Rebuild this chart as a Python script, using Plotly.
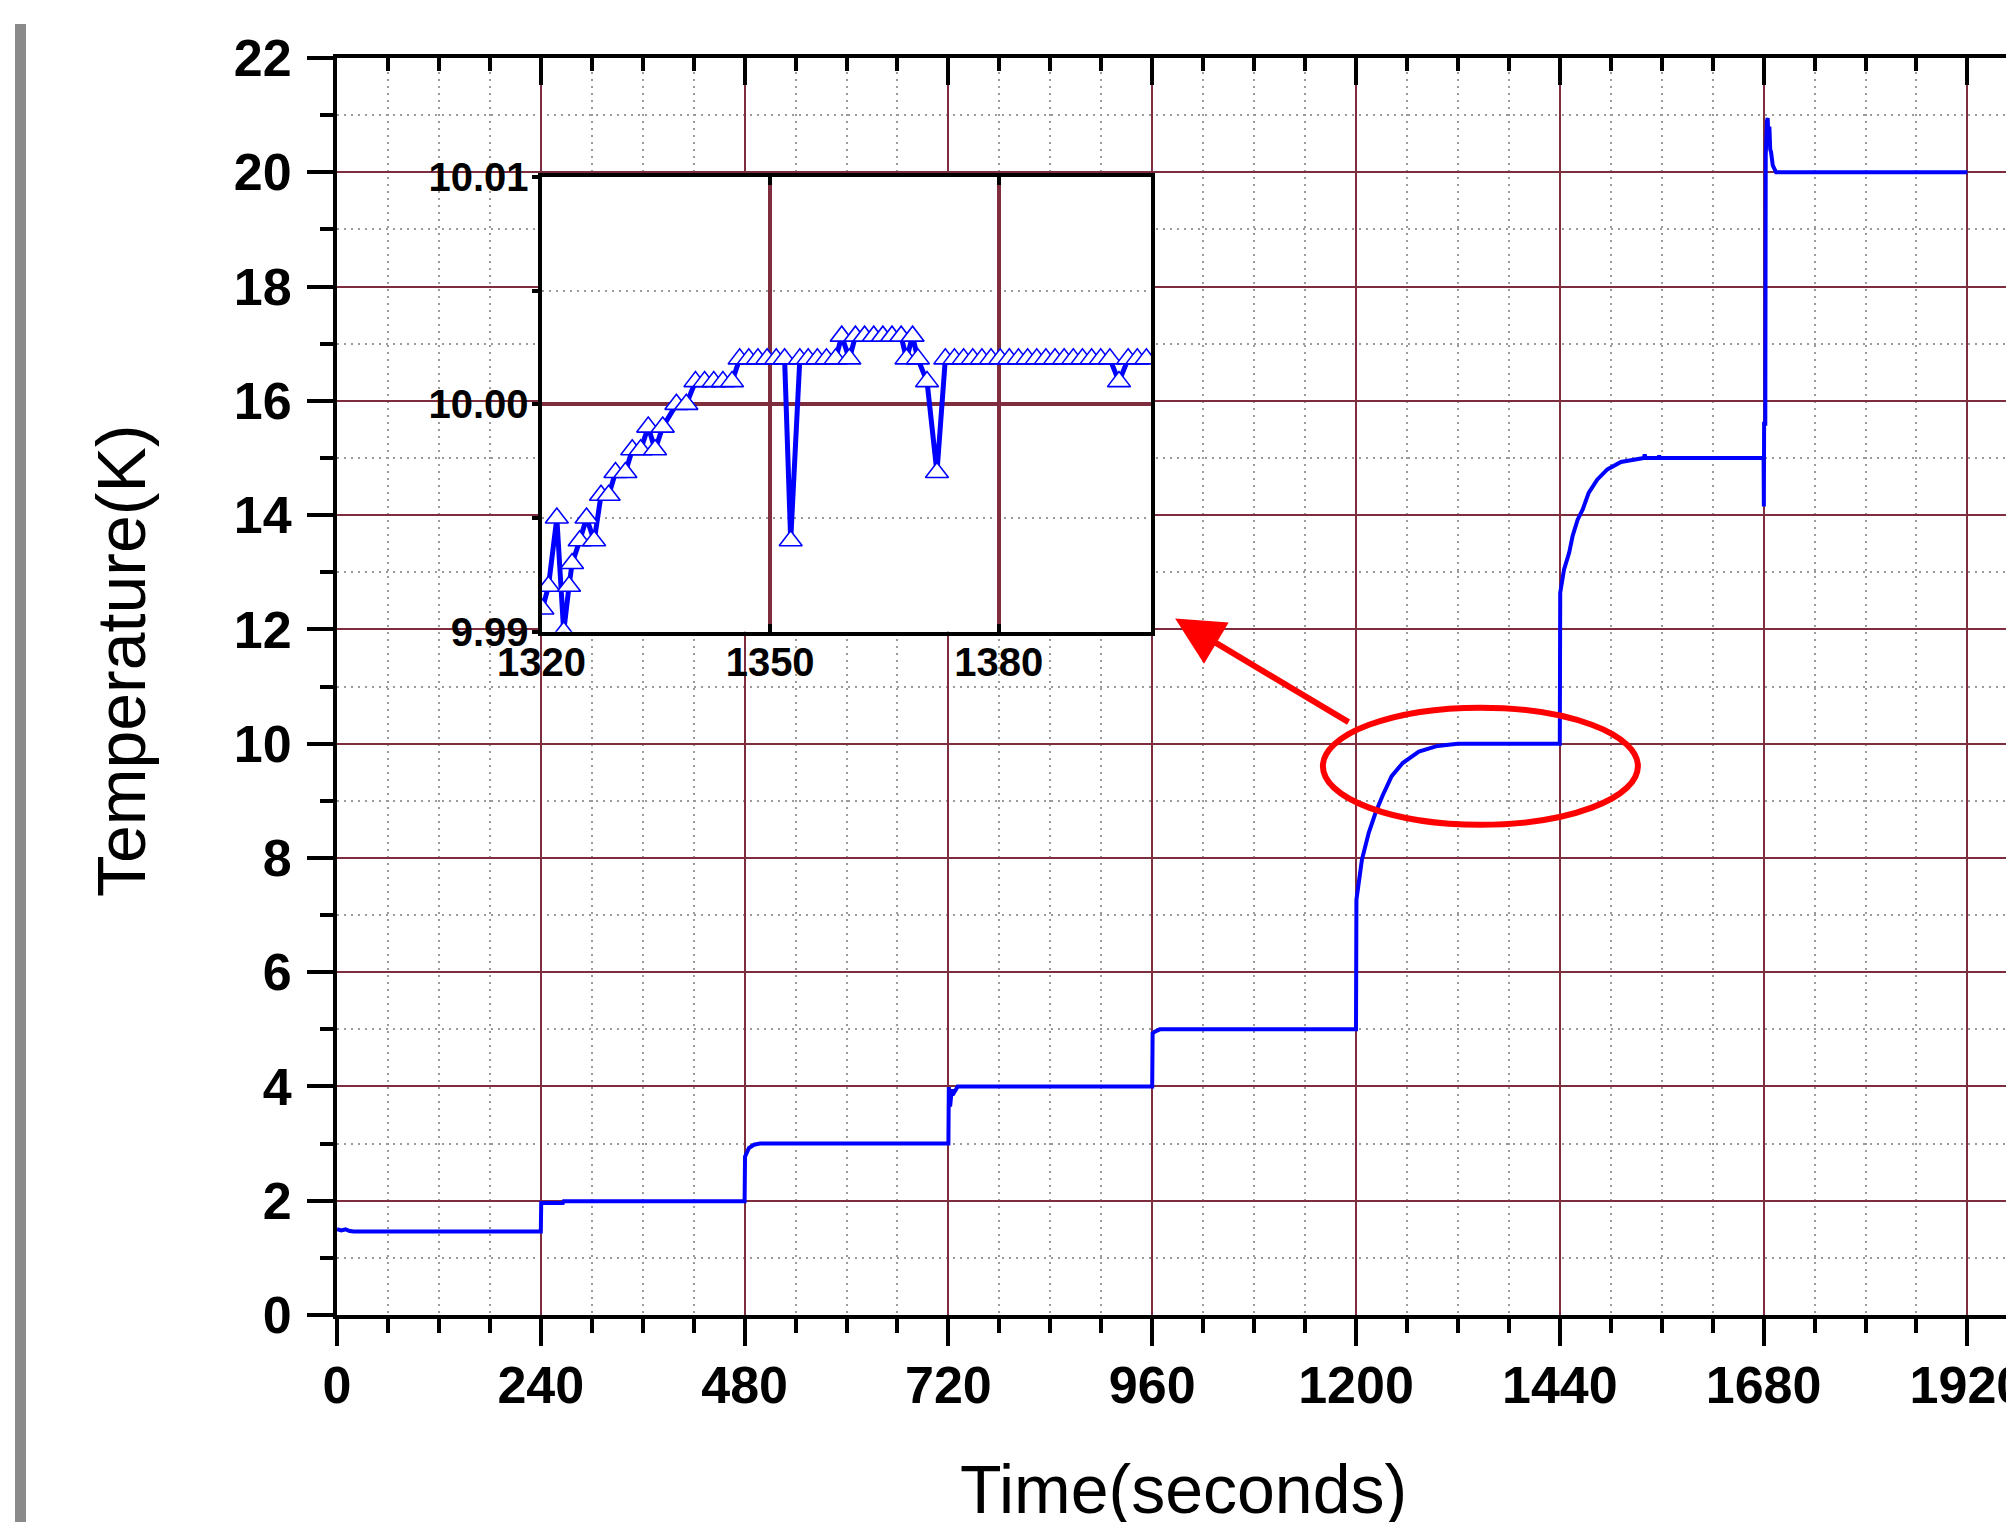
import plotly.graph_objects as go

# ---------------- data ----------------
main_t = [0, 5, 10, 15, 20, 240, 240.5, 266, 267, 480, 480.5, 485, 491, 498,
          720, 720.5, 722, 724, 725, 731, 960, 960.5, 963, 969,
          1200, 1200.5, 1207, 1215, 1223, 1231, 1242, 1255, 1274, 1296, 1309, 1320,
          1440, 1440.5, 1445, 1451, 1455, 1461, 1467, 1474, 1484, 1496, 1512, 1531,
          1539, 1540, 1541, 1556, 1557, 1558,
          1680, 1680.3, 1680.6, 1682, 1682.5, 1684.0, 1684.8, 1685.8, 1686.8, 1687.8,
          1688.8, 1690.8, 1692.5, 1694.7, 1920]
main_T = [1.50, 1.48, 1.50, 1.47, 1.46, 1.46, 1.96, 1.96, 1.99, 1.99, 2.77, 2.92, 2.98, 3.00,
          3.00, 3.99, 3.65, 3.95, 3.85, 4.00, 4.00, 4.93, 4.96, 5.00,
          5.00, 7.27, 7.97, 8.44, 8.79, 9.08, 9.43, 9.66, 9.86, 9.96, 9.98, 10.00,
          10.00, 12.64, 13.05, 13.34, 13.63, 13.92, 14.10, 14.39, 14.62, 14.80, 14.93, 14.99,
          15.00, 15.06, 15.00, 15.00, 15.04, 15.00,
          15.00, 14.15, 15.60, 15.60, 20.30, 20.90, 20.95, 20.50, 20.80, 20.40,
          20.35, 20.12, 20.05, 20.00, 20.00]

inset_t = [1320.1, 1320.9, 1322.0, 1322.9, 1323.6, 1324.0, 1325.0, 1325.9, 1326.9,
           1327.8, 1328.8, 1329.7, 1331.0, 1331.9, 1333.0, 1334.0, 1334.9, 1335.9,
           1337.7, 1339.0, 1340.2, 1341.4, 1342.6, 1343.8, 1345.0,
           1346.0, 1347.2, 1348.4, 1349.6, 1350.8, 1351.9, 1352.7, 1353.9,
           1355.0, 1356.2, 1357.4, 1358.6, 1359.4, 1360.4, 1361.2, 1362.4, 1363.6,
           1364.8, 1366.0, 1367.2, 1367.9, 1368.7, 1369.4, 1370.6, 1371.9, 1373.0,
           1374.2, 1375.4, 1376.6, 1377.8, 1379.0, 1380.2, 1381.4, 1382.6, 1383.8,
           1385.0, 1386.2, 1387.4, 1388.6, 1389.8, 1391.0, 1392.2, 1393.4, 1394.6,
           1395.8, 1397.0, 1398.2, 1399.4]
inset_T = [9.991, 9.992, 9.995, 9.990, 9.992, 9.993, 9.994, 9.995, 9.994,
           9.996, 9.996, 9.997, 9.997, 9.998, 9.998, 9.999, 9.998, 9.999,
           10.000, 10.000, 10.001, 10.001, 10.001, 10.001, 10.001,
           10.002, 10.002, 10.002, 10.002, 10.002, 10.002, 9.994, 10.002,
           10.002, 10.002, 10.002, 10.002, 10.003, 10.002, 10.003, 10.003, 10.003,
           10.003, 10.003, 10.003, 10.002, 10.003, 10.002, 10.001, 9.997, 10.002,
           10.002, 10.002, 10.002, 10.002, 10.002, 10.002, 10.002, 10.002, 10.002,
           10.002, 10.002, 10.002, 10.002, 10.002, 10.002, 10.002, 10.002, 10.002,
           10.001, 10.002, 10.002, 10.002]

x_ticks = [0, 240, 480, 720, 960, 1200, 1440, 1680, 1920]
y_ticks = [0, 2, 4, 6, 8, 10, 12, 14, 16, 18, 20, 22]
inset_x_ticks = [1320, 1350, 1380]
inset_y_ticks = [9.99, 10.00, 10.01]
inset_y_labels = ["9.99", "10.00", "10.01"]

# ---------------- layout constants ----------------
OFF = 8                      # default page margin of the html body
W, H = 2029, 1522
L, R, T = 329, 0, 50
PH = 1257
B = H - T - PH
PW = W - L - R
PLOT_LEFT = OFF + L          # screen px of the y axis
PLOT_BOTTOM = OFF + T + PH   # screen px of the x axis


def px_x(p):
    return (p - PLOT_LEFT) / PW


def px_y(p):
    return (PLOT_BOTTOM - p) / PH


MAROON = "#7d2d3d"
BLUE = "#0000ff"
FONT = "Liberation Sans"
MINOR_GRID = dict(showgrid=True, gridcolor="#9a9a9a", gridwidth=1.5, griddash="2px,5px")

fig = go.Figure()

fig.add_trace(go.Scatter(x=main_t, y=main_T, mode="lines",
                         line=dict(color=BLUE, width=4),
                         xaxis="x", yaxis="y", showlegend=False, hoverinfo="skip"))

fig.add_trace(go.Scatter(x=inset_t, y=inset_T, mode="lines+markers",
                         line=dict(color=BLUE, width=5),
                         marker=dict(symbol="triangle-up", size=20, color="white",
                                     line=dict(color=BLUE, width=1.6)),
                         xaxis="x2", yaxis="y2", showlegend=False, hoverinfo="skip"))

# dummy traces to activate overlay axes
fig.add_trace(go.Scatter(x=[None], y=[None], xaxis="x3", yaxis="y", showlegend=False, hoverinfo="skip"))
fig.add_trace(go.Scatter(x=[None], y=[None], xaxis="x", yaxis="y3", showlegend=False, hoverinfo="skip"))

XMAX = PW / (203.8 / 240)
tickfont = dict(family=FONT, size=52, color="black", weight="bold")
insetfont = dict(family=FONT, size=40, color="black", weight="bold")

fig.update_layout(
    width=W, height=H,
    margin=dict(l=L, r=R, t=T, b=B, autoexpand=False),
    paper_bgcolor="white", plot_bgcolor="white",
    showlegend=False,
    xaxis=dict(range=[0, XMAX], domain=[0, 1], tickmode="array", tickvals=x_ticks,
               ticktext=[str(v) for v in x_ticks],
               ticks="outside", ticklen=27, tickwidth=4, tickcolor="black",
               showline=True, linewidth=4, linecolor="black",
               showgrid=True, gridcolor=MAROON, gridwidth=2, zeroline=False,
               tickfont=tickfont, ticklabelstandoff=-5, ticklabeloverflow="allow",
               minor=dict(dtick=60, tick0=0, ticks="outside", ticklen=14, tickwidth=4,
                          tickcolor="black", **MINOR_GRID),
               automargin=False),
    yaxis=dict(range=[0, 22], domain=[0, 1], tickmode="array", tickvals=y_ticks,
               ticktext=[str(v) for v in y_ticks],
               ticks="outside", ticklen=26, tickwidth=4, tickcolor="black",
               showline=True, linewidth=4, linecolor="black",
               showgrid=True, gridcolor=MAROON, gridwidth=2, zeroline=False,
               tickfont=tickfont, ticklabelstandoff=5, ticklabeloverflow="allow",
               minor=dict(dtick=1, tick0=0, ticks="outside", ticklen=13, tickwidth=4,
                          tickcolor="black", **MINOR_GRID),
               automargin=False),
    xaxis3=dict(overlaying="x", side="top", anchor="y", range=[0, XMAX],
                tickmode="array", tickvals=x_ticks, showticklabels=False,
                ticks="inside", ticklen=27, tickwidth=4, tickcolor="black",
                showline=True, linewidth=4, linecolor="black",
                showgrid=False, zeroline=False,
                minor=dict(dtick=60, tick0=0, ticks="inside", ticklen=13, tickwidth=4,
                           tickcolor="black", showgrid=False)),
    yaxis3=dict(overlaying="y", side="right", anchor="x", range=[0, 22],
                tickmode="array", tickvals=y_ticks, showticklabels=False,
                ticks="inside", ticklen=27, tickwidth=4, tickcolor="black",
                showline=True, linewidth=4, linecolor="black",
                showgrid=False, zeroline=False),
    xaxis2=dict(domain=[px_x(541.6), px_x(1151)], anchor="y2", range=[1320, 1400],
                tickmode="array", tickvals=inset_x_ticks,
                ticktext=[str(v) for v in inset_x_ticks],
                ticks="inside", ticklen=8, tickwidth=4, tickcolor="black",
                showline=True, linewidth=4, linecolor="black", mirror="ticks",
                showgrid=True, gridcolor=MAROON, gridwidth=4, zeroline=False,
                tickfont=insetfont, ticklabelstandoff=-8, ticklabeloverflow="allow",
                automargin=False),
    yaxis2=dict(domain=[px_y(631.7), px_y(177)], anchor="x2", range=[9.99, 10.01],
                tickmode="array", tickvals=inset_y_ticks, ticktext=inset_y_labels,
                ticks="outside", ticklen=6, tickwidth=4, tickcolor="black",
                showline=True, linewidth=4, linecolor="black", mirror=True,
                showgrid=True, gridcolor=MAROON, gridwidth=4, zeroline=False,
                tickfont=insetfont, ticklabelstandoff=-5, ticklabeloverflow="allow",
                minor=dict(dtick=0.005, tick0=9.99, ticks="outside", ticklen=6, tickwidth=4,
                           tickcolor="black", **MINOR_GRID),
                automargin=False),
)

# gray bar at the left edge
fig.add_shape(type="rect", xref="paper", yref="paper",
              x0=px_x(15), x1=px_x(26), y0=px_y(1530), y1=px_y(24),
              fillcolor="#8a8a8a", line=dict(width=0), layer="above")

# red ellipse around the 10 K plateau
fig.add_shape(type="circle", xref="x", yref="y",
              x0=1161, x1=1532, y0=8.58, y1=10.63,
              line=dict(color="#ff0000", width=6), layer="above")

# red arrow pointing at the inset
fig.add_annotation(x=987, y=12.19, xref="x", yref="y", ax=1193, ay=10.36,
                   axref="x", ayref="y", text="", showarrow=True,
                   arrowhead=2, arrowsize=1.6, arrowwidth=6, arrowcolor="#ff0000",
                   standoff=0, startstandoff=0)

# axis titles
fig.add_annotation(text="Temperature(K)", xref="paper", yref="paper",
                   x=px_x(121), y=px_y(661), textangle=-90, showarrow=False,
                   xanchor="center", yanchor="middle",
                   font=dict(family=FONT, size=68, color="black"))
fig.add_annotation(text="Time(seconds)", xref="paper", yref="paper",
                   x=px_x(1183.6), y=px_y(1489), showarrow=False,
                   xanchor="center", yanchor="middle",
                   font=dict(family=FONT, size=68, color="black"))

fig.write_html("out.html")
